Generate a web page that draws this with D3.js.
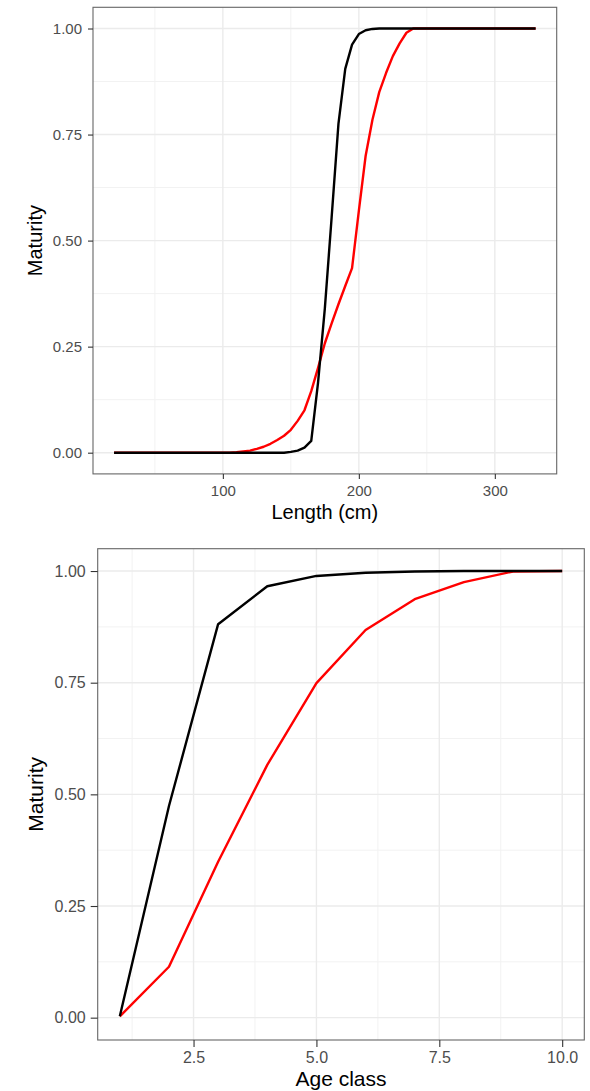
<!DOCTYPE html>
<html>
<head>
<meta charset="utf-8">
<script src="https://cdn.jsdelivr.net/npm/d3@7"></script>
<style>
  html, body { margin: 0; padding: 0; background: #fff; }
  svg { display: block; font-family: "Liberation Sans", Arial, sans-serif; }
</style>
</head>
<body>
<svg id="chart" width="590" height="1091"></svg>
<script>
// Maturity at length (cm), 5 cm steps from 20 to 330
const lengthCm = [20,25,30,35,40,45,50,55,60,65,70,75,80,85,90,95,100,105,110,115,
  120,125,130,135,140,145,150,155,160,165,170,175,180,185,190,195,200,205,210,215,
  220,225,230,235,240,245,250,255,260,265,270,275,280,285,290,295,300,305,310,315,
  320,325,330];
const lengthRed = [0,0,0,0,0,0,0,0,0,0,0,0,0,0,0,0,0,0,0.001,0.003,
  0.005,0.009,0.014,0.021,0.03,0.04,0.054,0.075,0.1,0.145,0.2,0.258,0.305,0.35,0.393,0.435,0.57,0.70,0.785,0.85,
  0.895,0.935,0.965,0.99,1,1,1,1,1,1,1,1,1,1,1,1,1,1,1,1,
  1,1,1];
const lengthBlack = [0,0,0,0,0,0,0,0,0,0,0,0,0,0,0,0,0,0,0,0,
  0,0,0,0,0,0,0.002,0.005,0.012,0.028,0.165,0.34,0.555,0.775,0.905,0.962,0.987,0.996,0.999,1,
  1,1,1,1,1,1,1,1,1,1,1,1,1,1,1,1,1,1,1,1,
  1,1,1];
const lengthTicks = [100, 200, 300];
const lengthMinor = [50, 150, 250];

// Maturity at age class
const ageClass = [1,2,3,4,5,6,7,8,9,10];
const ageRed = [0.003,0.114,0.349,0.566,0.749,0.868,0.937,0.975,0.999,1];
const ageBlack = [0.003,0.474,0.881,0.966,0.989,0.996,0.999,1,1,1];
const ageTicks = [2.5, 5.0, 7.5, 10.0];
const ageMinor = [1.25, 3.75, 6.25, 8.75];

const yTicks = [0, 0.25, 0.5, 0.75, 1];
const yMinor = [0.125, 0.375, 0.625, 0.875];

const svg = d3.select("#chart");

function panel(cfg) {
  const g = svg.append("g");
  const [x0, x1] = d3.extent(cfg.xs);
  const xPad = (x1 - x0) * 0.05;
  const x = d3.scaleLinear().domain([x0 - xPad, x1 + xPad]).range([cfg.left, cfg.right]);
  const y = d3.scaleLinear().domain([-0.05, 1.05]).range([cfg.bottom, cfg.top]);

  // minor grid
  g.selectAll(null).data(cfg.xMinor).join("line")
    .attr("x1", d => x(d)).attr("x2", d => x(d))
    .attr("y1", cfg.top).attr("y2", cfg.bottom)
    .attr("stroke", "#f2f2f2").attr("stroke-width", 1);
  g.selectAll(null).data(yMinor).join("line")
    .attr("x1", cfg.left).attr("x2", cfg.right)
    .attr("y1", d => y(d)).attr("y2", d => y(d))
    .attr("stroke", "#f2f2f2").attr("stroke-width", 1);
  // major grid
  g.selectAll(null).data(cfg.xTicks).join("line")
    .attr("x1", d => x(d)).attr("x2", d => x(d))
    .attr("y1", cfg.top).attr("y2", cfg.bottom)
    .attr("stroke", "#ebebeb").attr("stroke-width", 1.4);
  g.selectAll(null).data(yTicks).join("line")
    .attr("x1", cfg.left).attr("x2", cfg.right)
    .attr("y1", d => y(d)).attr("y2", d => y(d))
    .attr("stroke", "#ebebeb").attr("stroke-width", 1.4);

  const line = d3.line().x(d => x(d[0])).y(d => y(d[1]));
  cfg.series.forEach(s => {
    g.append("path")
      .datum(cfg.xs.map((v, i) => [v, s.values[i]]))
      .attr("d", line)
      .attr("fill", "none")
      .attr("stroke", s.color)
      .attr("stroke-width", 2.4)
      .attr("stroke-linejoin", "round");
  });

  // border
  g.append("rect")
    .attr("x", cfg.left).attr("y", cfg.top)
    .attr("width", cfg.right - cfg.left).attr("height", cfg.bottom - cfg.top)
    .attr("fill", "none").attr("stroke", "#666").attr("stroke-width", 1.1);

  // axes
  const xAxis = d3.axisBottom(x).tickValues(cfg.xTicks).tickFormat(cfg.xFormat)
    .tickSize(cfg.tickLen).tickPadding(cfg.tickPad);
  const gx = g.append("g").attr("transform", `translate(0,${cfg.bottom})`).call(xAxis);
  const yAxis = d3.axisLeft(y).tickValues(yTicks).tickFormat(d3.format(".2f"))
    .tickSize(cfg.tickLen).tickPadding(cfg.tickPad);
  const gy = g.append("g").attr("transform", `translate(${cfg.left},0)`).call(yAxis);
  [gx, gy].forEach(a => {
    a.select(".domain").remove();
    a.selectAll(".tick line").attr("stroke", "#333").attr("stroke-width", 1.1);
    a.selectAll(".tick text").attr("fill", "#4d4d4d")
      .style("font-size", cfg.tickSize + "px")
      .style("font-family", '"Liberation Sans", Arial, sans-serif');
  });

  g.append("text")
    .attr("x", (cfg.left + cfg.right) / 2).attr("y", cfg.xTitleY)
    .attr("text-anchor", "middle")
    .style("font-size", cfg.titleSize + "px").attr("fill", "#000")
    .text(cfg.xTitle);
  g.append("text")
    .attr("transform", `translate(${cfg.yTitleX},${(cfg.top + cfg.bottom) / 2}) rotate(-90)`)
    .attr("text-anchor", "middle")
    .style("font-size", cfg.titleSize + "px").attr("fill", "#000")
    .text("Maturity");
}

panel({
  xs: lengthCm, xTicks: lengthTicks, xMinor: lengthMinor, xFormat: d3.format("d"),
  series: [{ values: lengthRed, color: "#ff0000" }, { values: lengthBlack, color: "#000000" }],
  left: 93, right: 556.7, top: 7.3, bottom: 473.9,
  tickLen: 5, tickPad: 6,
  tickSize: 15, titleSize: 20, xTitle: "Length (cm)", xTitleY: 519, yTitleX: 42
});

panel({
  xs: ageClass, xTicks: ageTicks, xMinor: ageMinor, xFormat: d3.format(".1f"),
  series: [{ values: ageRed, color: "#ff0000" }, { values: ageBlack, color: "#000000" }],
  left: 97.7, right: 584.3, top: 548.7, bottom: 1040,
  tickLen: 7, tickPad: 5,
  tickSize: 16, titleSize: 21, xTitle: "Age class", xTitleY: 1086, yTitleX: 43
});
</script>
</body>
</html>
